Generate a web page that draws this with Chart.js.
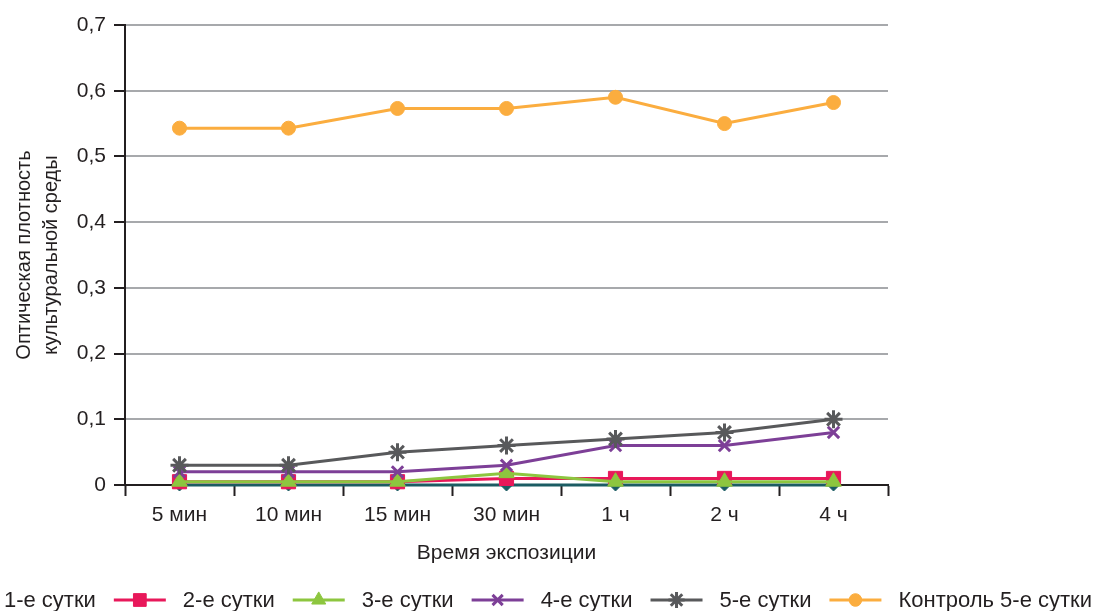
<!DOCTYPE html>
<html>
<head>
<meta charset="utf-8">
<script src="https://cdn.jsdelivr.net/npm/chart.js@4/dist/chart.umd.min.js"></script>
<style>
  html, body { margin: 0; padding: 0; background: #ffffff; overflow: hidden; }
  #wrap { width: 1098px; height: 611px; position: relative; }
</style>
</head>
<body>
<div id="wrap"><canvas id="c"></canvas></div>
<script>
// Exposure times along the x axis
const categories = ['5 мин', '10 мин', '15 мин', '30 мин', '1 ч', '2 ч', '4 ч'];

// Optical density of the culture medium per observation day
const seriesNames = ['1-е сутки', '2-е сутки', '3-е сутки', '4-е сутки', '5-е сутки', 'Контроль 5-е сутки'];
const day1 = [0, 0, 0, 0, 0, 0, 0];
const day2 = [0.005, 0.005, 0.005, 0.01, 0.01, 0.01, 0.01];
const day3 = [0.005, 0.005, 0.005, 0.018, 0.005, 0.005, 0.005];
const day4 = [0.02, 0.02, 0.02, 0.03, 0.06, 0.06, 0.08];
const day5 = [0.03, 0.03, 0.05, 0.06, 0.07, 0.08, 0.10];
const control5 = [0.543, 0.543, 0.573, 0.573, 0.59, 0.55, 0.582];

// Axis texts
const yTickLabels = ['0', '0,1', '0,2', '0,3', '0,4', '0,5', '0,6', '0,7'];
const xTitle = 'Время экспозиции';
const yTitle = ['Оптическая плотность', 'культуральной среды'];

const FONT = "'Liberation Sans', Arial, Helvetica, sans-serif";
const INK = '#231F20';

// Visual style of each series (line colour, marker)
const styles = [
  { color: '#1B5C63', fill: '#1B5C63', point: 'rectRot',  radius: 6,  pbw: 1 },
  { color: '#E8185A', fill: '#E8185A', point: 'rect',     radius: 10, pbw: 1 },
  { color: '#8DC63F', fill: '#8DC63F', point: 'triangle', radius: 9,  pbw: 1 },
  { color: '#7D3F97', fill: '#7D3F97', point: 'crossRot', radius: 8,  pbw: 3 },
  { color: '#58595B', fill: '#58595B', point: 'star',     radius: 9,  pbw: 3 },
  { color: '#FBAD3F', fill: '#FBAD3F', point: 'circle',   radius: 7,  pbw: 1 }
];
const seriesValues = [day1, day2, day3, day4, day5, control5];

const datasets = seriesValues.map((vals, i) => ({
  label: seriesNames[i],
  data: vals,
  borderColor: styles[i].color,
  backgroundColor: styles[i].fill,
  borderWidth: 3,
  pointStyle: styles[i].point,
  pointRadius: styles[i].radius,
  pointHoverRadius: styles[i].radius,
  pointBackgroundColor: styles[i].fill,
  pointBorderColor: styles[i].color,
  pointBorderWidth: styles[i].pbw,
  tension: 0,
  fill: false,
  clip: false,
  order: seriesValues.length - i
}));

// Legend drawn as a line segment with the series marker, then the name
const lineLegend = {
  id: 'lineLegend',
  afterDraw(chart, args, opts) {
    const ctx = chart.ctx;
    ctx.save();
    ctx.font = opts.font;
    const dsList = chart.data.datasets;
    const widths = dsList.map(ds => ctx.measureText(ds.label).width);
    let total = 0;
    widths.forEach((w, i) => {
      total += opts.boxWidth + opts.textGap + w + (i < widths.length - 1 ? opts.itemGap : 0);
    });
    let x = opts.right - total;
    const y = opts.y;
    dsList.forEach((ds, i) => {
      ctx.strokeStyle = ds.borderColor;
      ctx.lineWidth = ds.borderWidth;
      ctx.beginPath();
      ctx.moveTo(x, y);
      ctx.lineTo(x + opts.boxWidth, y);
      ctx.stroke();
      ctx.fillStyle = ds.pointBackgroundColor;
      ctx.strokeStyle = ds.pointBorderColor;
      ctx.lineWidth = ds.pointBorderWidth;
      Chart.helpers.drawPoint(ctx, {
        pointStyle: ds.pointStyle,
        radius: ds.pointRadius * opts.markerScale,
        borderWidth: ds.pointBorderWidth,
        rotation: 0
      }, x + opts.boxWidth / 2, y);
      ctx.fillStyle = opts.color;
      ctx.textBaseline = 'middle';
      ctx.textAlign = 'left';
      ctx.fillText(ds.label, x + opts.boxWidth + opts.textGap, y + 1);
      x += opts.boxWidth + opts.textGap + widths[i] + opts.itemGap;
    });
    ctx.restore();
  }
};

new Chart(document.getElementById('c'), {
  type: 'line',
  data: { labels: categories, datasets },
  plugins: [lineLegend],
  options: {
    responsive: true,
    maintainAspectRatio: false,
    animation: false,
    layout: { padding: { top: 25, right: 210, bottom: 45, left: 0 } },
    plugins: {
      legend: { display: false },
      tooltip: { enabled: false },
      lineLegend: {
        font: `22px ${FONT}`,
        color: INK,
        boxWidth: 52,
        textGap: 17,
        itemGap: 18,
        markerScale: 0.9,
        right: 1092,
        y: 600
      }
    },
    scales: {
      x: {
        offset: true,
        afterFit(scale) { scale.height = 81; },
        grid: {
          offset: true,
          drawOnChartArea: false,
          drawTicks: true,
          tickLength: 11,
          tickColor: INK,
          tickWidth: 2
        },
        border: { color: INK, width: 2 },
        ticks: {
          color: INK,
          padding: 7,
          maxRotation: 0,
          font: { family: FONT, size: 21 }
        },
        title: {
          display: true,
          text: xTitle,
          color: INK,
          padding: { top: 0, bottom: 0 },
          font: { family: FONT, size: 21 }
        }
      },
      y: {
        min: 0,
        max: 0.7,
        afterFit(scale) { scale.width = 125; },
        grid: {
          color: '#A7A9AC',
          lineWidth: 2,
          tickLength: 11,
          tickColor: INK,
          tickWidth: 2
        },
        border: { color: INK, width: 2 },
        ticks: {
          stepSize: 0.1,
          color: INK,
          padding: 8,
          font: { family: FONT, size: 21 },
          callback: (value, index) => yTickLabels[index]
        },
        title: {
          display: true,
          text: yTitle,
          color: INK,
          padding: { top: 11, bottom: 0 },
          font: { family: FONT, size: 20, lineHeight: 1.35 }
        }
      }
    }
  }
});
</script>
</body>
</html>
